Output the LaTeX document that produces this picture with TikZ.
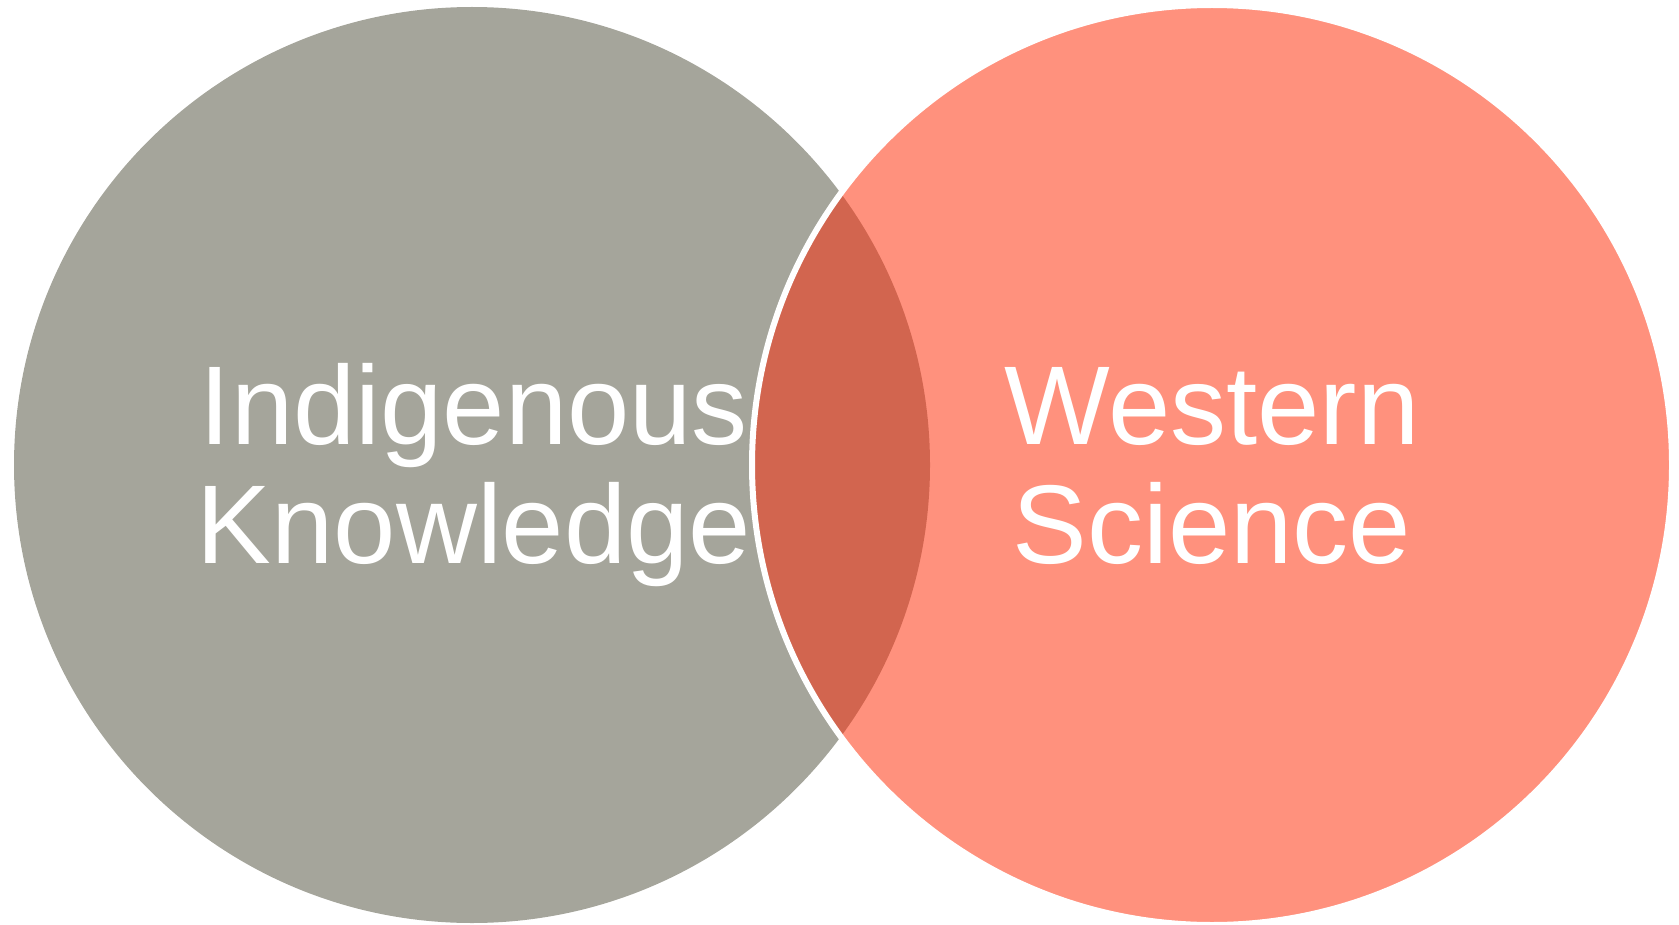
\documentclass[tikz,border=0pt]{standalone}
\usepackage{fontspec}
\setmainfont{Liberation Sans}
\definecolor{ikgray}{HTML}{A5A59B}
\definecolor{wssalmon}{HTML}{FF917D}
\definecolor{overlapred}{HTML}{D2654F}
\tikzset{
  px/.style={x=0.5pt,y=-0.5pt},
  label/.style={text=white,inner sep=0pt,anchor=base,
    font=\fontsize{56}{59.5}\selectfont}
}
\begin{document}
\begin{tikzpicture}[px]
\useasboundingbox (0,0) rectangle (1679,925);
\coordinate (ikc) at (472,465);
\coordinate (wsc) at (1212,465);
% circles
\fill[ikgray] (ikc) circle[radius=458];
\fill[wssalmon] (wsc) circle[radius=460];
\begin{scope}
  \clip (ikc) circle[radius=458];
  \fill[overlapred] (wsc) circle[radius=460];
\end{scope}
\draw[white,line width=3pt] (wsc) circle[radius=460];
% labels
\node[label] (ik) at (474,444) {\begin{tabular}[t]{@{}c@{}}Indigenous\\Knowledge\end{tabular}};
\node[label] (ws) at (1212,444) {\begin{tabular}[t]{@{}c@{}}Western\\Science\end{tabular}};
\end{tikzpicture}
\end{document}
